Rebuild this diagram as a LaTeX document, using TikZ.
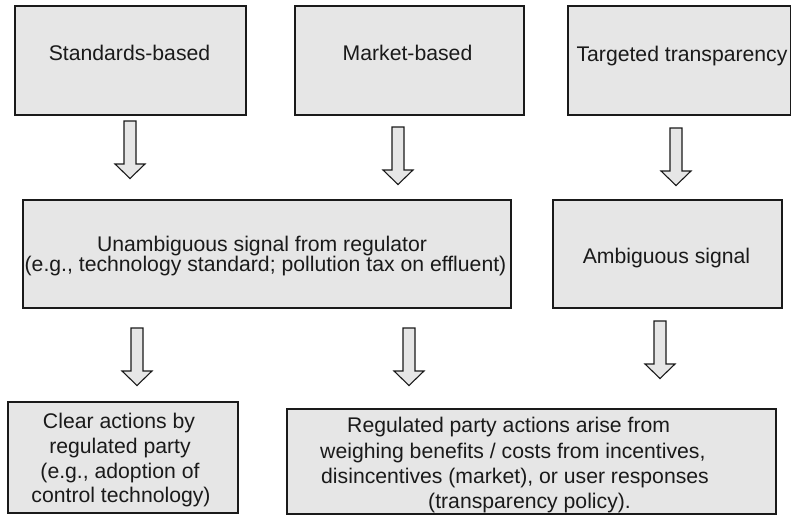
\documentclass[tikz,border=0pt]{standalone}
\usepackage{fontspec}
\setmainfont{Liberation Sans}
\definecolor{boxgray}{HTML}{E6E6E6}
\definecolor{inkgray}{HTML}{1A1A1A}
\begin{document}
\begin{tikzpicture}[x=1pt,y=-1pt,
  box/.style={draw=inkgray, line width=1.5pt, fill=boxgray, anchor=north west, inner sep=0pt},
  txt/.style={font=\fontsize{21.2}{25}\selectfont, text=inkgray, inner sep=0pt, anchor=base},
  txtl/.style={txt, anchor=base west},
  arrowline/.style={draw=inkgray, line width=1.1pt, fill=boxgray, line join=miter},
  barrow/.pic={\path[arrowline] (-6,0) -- (-6,43) -- (-15,43) -- (0,57.5) -- (15,43) -- (6,43) -- (6,0) -- cycle;}
]
\useasboundingbox (0,0) rectangle (791,517);

% top row boxes
\node[box, minimum width=231pt, minimum height=109pt] (b1) at (14,5) {};
\node[box, minimum width=229pt, minimum height=109pt] (b2) at (294,5) {};
\node[box, minimum width=223pt, minimum height=109pt] (b3) at (567,5) {};
\node[txt] (t1) at (129.5,60) {Standards-based};
\node[txt] (t2) at (407.5,60) {Market-based};
\node[txt] (t3) at (682,61) {Targeted transparency};

% arrows from top row
\pic (a1) at (130,121) {barrow};
\pic (a2) at (398,127) {barrow};
\pic (a3) at (676,128) {barrow};

% middle row
\node[box, minimum width=488pt, minimum height=108pt] (m1) at (22,199) {};
\node[box, minimum width=229pt, minimum height=108pt] (m2) at (552,199) {};
\node[txt] (tm1) at (262,251) {Unambiguous signal from regulator};
\node[txt] (tm2) at (265.5,271) {(e.g., technology standard; pollution tax on effluent)};
\node[txt] (tm3) at (666.5,263) {Ambiguous signal};

% arrows from middle row
\pic (a4) at (137,328) {barrow};
\pic (a5) at (409,328) {barrow};
\pic (a6) at (660,321) {barrow};

% bottom row
\node[box, minimum width=230pt, minimum height=111pt] (c1) at (7,401) {};
\node[box, minimum width=489pt, minimum height=105pt] (c2) at (286,408) {};
\node[txt] (tc1) at (119,428) {Clear actions by};
\node[txt] (tc2) at (120,453) {regulated party};
\node[txt] (tc3) at (120,478) {(e.g., adoption of};
\node[txt] (tc4) at (121,502) {control technology)};
\node[txtl] (td1) at (347,432) {Regulated party actions arise from};
\node[txtl] (td2) at (320,458) {weighing benefits / costs from incentives,};
\node[txtl] (td3) at (321,483) {disincentives (market), or user responses};
\node[txtl] (td4) at (428,508) {(transparency policy).};
\end{tikzpicture}
\end{document}
